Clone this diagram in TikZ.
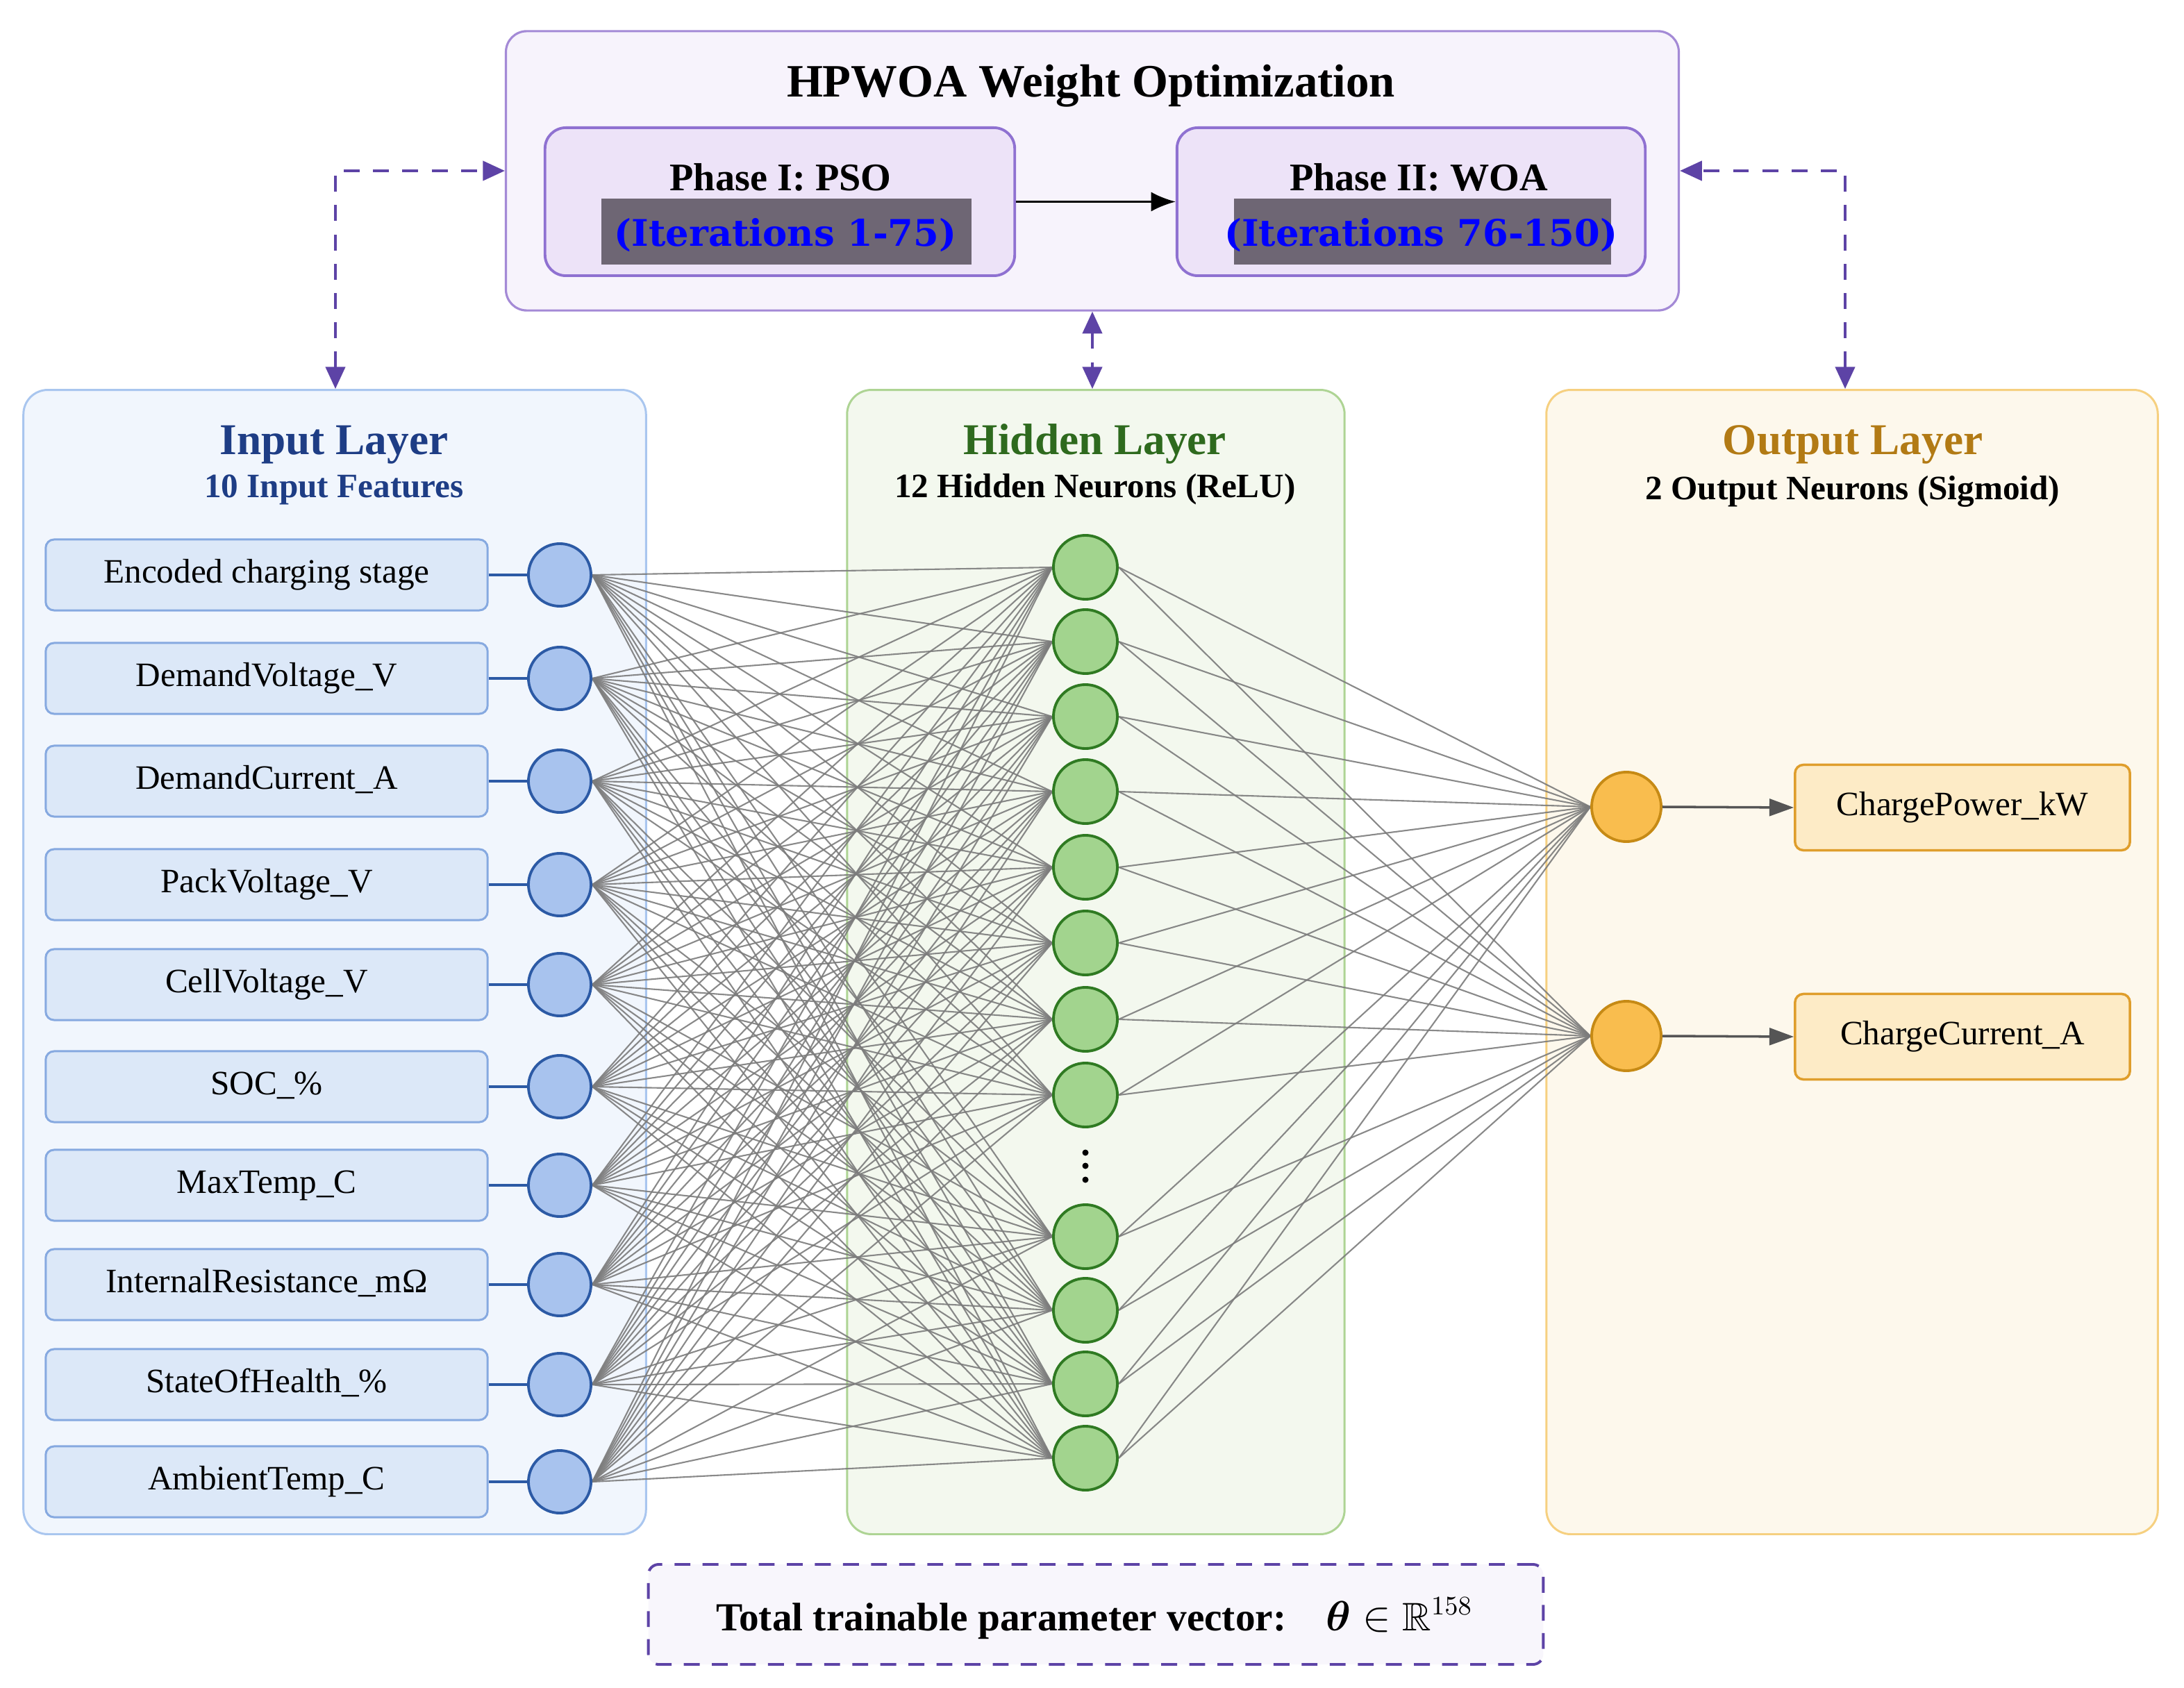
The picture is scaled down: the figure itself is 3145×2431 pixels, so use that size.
\documentclass[tikz,border=0pt]{standalone}
\usepackage{amsmath,amssymb,bm}
\usepackage{fontspec}
\setmainfont{Liberation Serif}
\newfontfamily\dvsfont{DejaVu Serif}
\usetikzlibrary{arrows.meta}
\pgfdeclarelayer{back}
\pgfdeclarelayer{mid}
\pgfsetlayers{back,mid,main}
\definecolor{topfill}{HTML}{F7F3FC}
\definecolor{topdraw}{HTML}{A48AD6}
\definecolor{phfill}{HTML}{EDE3F8}
\definecolor{phdraw}{HTML}{8F71D1}
\definecolor{dashc}{HTML}{5D43A6}
\definecolor{itbg}{HTML}{6E6674}
\definecolor{itblue}{HTML}{0000FF}
\definecolor{inbg}{HTML}{F1F6FD}
\definecolor{inbd}{HTML}{A9C6EF}
\definecolor{featfill}{HTML}{DCE8F8}
\definecolor{featbd}{HTML}{86A9E0}
\definecolor{incf}{HTML}{A8C3EE}
\definecolor{incd}{HTML}{2C5AA5}
\definecolor{hidbg}{HTML}{F3F8EE}
\definecolor{hidbd}{HTML}{AED494}
\definecolor{hcf}{HTML}{A2D48E}
\definecolor{hcd}{HTML}{2F7A22}
\definecolor{outbg}{HTML}{FDF8EC}
\definecolor{outbd}{HTML}{F6D080}
\definecolor{ocf}{HTML}{F9BD4E}
\definecolor{ocd}{HTML}{C68A15}
\definecolor{obf}{HTML}{FDEBC6}
\definecolor{obd}{HTML}{DF9E2C}
\definecolor{intitle}{HTML}{1E3D85}
\definecolor{hidtitle}{HTML}{2E6A1E}
\definecolor{outtitle}{HTML}{B27A14}
\definecolor{conncol}{HTML}{7C7C7C}
\definecolor{totfill}{HTML}{F8F6FC}
\definecolor{outarr}{HTML}{555555}
\newcommand\fsBig{\fontsize{19pt}{22pt}\selectfont\bfseries}
\newcommand\fsLay{\fontsize{18pt}{21pt}\selectfont\bfseries}
\newcommand\fsSub{\fontsize{14pt}{16pt}\selectfont\bfseries}
\newcommand\fsPh{\fontsize{16pt}{19pt}\selectfont\bfseries}
\newcommand\fsIt{\dvsfont\fontsize{15pt}{18pt}\selectfont\bfseries}
\newcommand\fsLab{\fontsize{14pt}{16pt}\selectfont}
\newcommand\fsTot{\fontsize{16.3pt}{19pt}\selectfont\bfseries}
\tikzset{
  lbox/.style={draw, rounded corners=0.35cm, line width=0.85pt, inner sep=0pt},
  featbox/.style={draw=featbd, fill=featfill, rounded corners=0.12cm, line width=0.85pt,
    minimum width=6.36cm, minimum height=1.02cm, text height=0.66em, text depth=0pt,
    font=\fsLab, inner sep=0pt},
  incirc/.style={circle, draw=incd, fill=incf, line width=1.1pt, minimum size=0.9cm, inner sep=0pt},
  hcirc/.style={circle, draw=hcd, fill=hcf, line width=1.1pt, minimum size=0.92cm, inner sep=0pt},
  ocirc/.style={circle, draw=ocd, fill=ocf, line width=1.1pt, minimum size=1.0cm, inner sep=0pt},
  obox/.style={draw=obd, fill=obf, rounded corners=0.12cm, line width=1pt,
    minimum width=4.82cm, minimum height=1.23cm, text height=0.66em, text depth=0pt,
    font=\fsLab, inner sep=0pt},
  conn/.style={draw=conncol, line width=0.6pt, draw opacity=0.9},
  dasharr/.style={draw=dashc, line width=1.1pt, dash pattern=on 6.5pt off 5.5pt,
    {Triangle[length=9pt,width=8pt]}-{Triangle[length=9pt,width=8pt]}},
  phbox/.style={draw=phdraw, fill=phfill, rounded corners=0.3cm, line width=1.1pt,
    minimum height=2.13cm, inner sep=0pt},
  itbox/.style={fill=itbg, minimum height=0.95cm, inner sep=0pt},
  ittext/.style={anchor=base, inner sep=0pt, font=\fsIt, text=itblue},
  ttl/.style={anchor=base, inner sep=0pt}
}
\begin{document}
\begin{tikzpicture}[x=0.01cm,y=-0.01cm]
\useasboundingbox (0,0) rectangle (3145,2431);

% --- top optimization box
\node[draw=topdraw, fill=topfill, rounded corners=0.3cm, line width=0.9pt,
  minimum width=16.88cm, minimum height=4.02cm, inner sep=0pt] (top) at (1573,246) {};
\node[ttl, font=\fsBig] (toptitle) at (1571,140) {HPWOA Weight Optimization};
\node[phbox, minimum width=6.76cm] (ph1) at (1123,290.5) {};
\node[phbox, minimum width=6.74cm] (ph2) at (2032,290.5) {};
\node[ttl, font=\fsPh] (ph1t) at (1124,275) {Phase I: PSO};
\node[ttl, font=\fsPh] (ph2t) at (2043,275) {Phase II: WOA};
\node[itbox, minimum width=5.33cm] (it1) at (1132.5,333.5) {};
\node[itbox, minimum width=5.43cm] (it2) at (2048.5,333.5) {};
\node[ittext] (it1t) at (1131,355) {(Iterations 1-75)};
\node[ittext] (it2t) at (2046,355) {(Iterations 76-150)};
\draw[black, line width=0.9pt, -{Latex[length=10pt,width=8pt]}] (ph1.east) -- (ph2.west);

% --- layer boxes
\begin{pgfonlayer}{back}
\node[lbox, draw=inbd, fill=inbg, minimum width=8.96cm, minimum height=16.47cm] (inL) at (482,1385.5) {};
\node[lbox, draw=hidbd, fill=hidbg, minimum width=7.16cm, minimum height=16.47cm] (hidL) at (1578,1385.5) {};
\node[lbox, draw=outbd, fill=outbg, minimum width=8.80cm, minimum height=16.47cm] (outL) at (2667,1385.5) {};
\end{pgfonlayer}

\node[ttl, font=\fsLay, text=intitle] (inT) at (481,655) {Input Layer};
\node[ttl, font=\fsSub, text=intitle] (inS) at (481,717) {10 Input Features};
\node[ttl, font=\fsLay, text=hidtitle] (hidT) at (1577,655) {Hidden Layer};
\node[ttl, font=\fsSub] (hidS) at (1577,717) {12 Hidden Neurons (ReLU)};
\node[ttl, font=\fsLay, text=outtitle] (outT) at (2668,655) {Output Layer};
\node[ttl, font=\fsSub] (outS) at (2668,720) {2 Output Neurons (Sigmoid)};

% --- dashed feedback arrows
\coordinate (cl) at (483,246);
\coordinate (cr) at (2657,246);
\draw[dasharr] (cl |- inL.north) -- (cl) -- (top.west);
\draw[dasharr] (cr |- outL.north) -- (cr) -- (top.east);
\draw[dasharr] (top.south) -- (top.south |- hidL.north);

% --- input features
\foreach \y/\t [count=\k] in {828/Encoded charging stage, 977/DemandVoltage\_V,
  1125/DemandCurrent\_A, 1274/PackVoltage\_V, 1418/CellVoltage\_V, 1565/SOC\_\%,
  1707/MaxTemp\_C, 1850/InternalResistance\_mΩ, 1994/StateOfHealth\_\%, 2134/AmbientTemp\_C}{
  \node[featbox] (f\k) at (384,\y) {\t};
  \node[incirc] (i\k) at (806,\y) {};
  \draw[incd, line width=1.1pt] (f\k.east) -- (i\k.west);
}

% --- hidden neurons
\foreach \y [count=\k] in {817,924,1032,1140,1249,1358,1468,1577,1781,1887,1993,2100}{
  \node[hcirc] (h\k) at (1563,\y) {};
}
\foreach \y [count=\k] in {1660,1679,1699}{
  \node[circle, fill=black, minimum size=0.09cm, inner sep=0pt] (dot\k) at (1563,\y) {};
}

% --- output neurons
\node[ocirc] (o1) at (2342,1162) {};
\node[ocirc] (o2) at (2342,1492) {};
\node[obox] (ob1) at (2826,1163) {ChargePower\_kW};
\node[obox] (ob2) at (2826,1493) {ChargeCurrent\_A};
\draw[outarr, line width=1pt, -{Triangle[length=10pt,width=7pt]}] (o1.east) -- (ob1.west);
\draw[outarr, line width=1pt, -{Triangle[length=10pt,width=7pt]}] (o2.east) -- (ob2.west);

% --- connections
\begin{pgfonlayer}{mid}
\foreach \i in {1,...,10}{
  \foreach \j in {1,...,12}{
    \draw[conn] (i\i.east) -- (h\j.west);
  }
}
\foreach \j in {1,...,12}{
  \draw[conn] (h\j.east) -- (o1.west);
  \draw[conn] (h\j.east) -- (o2.west);
}
\end{pgfonlayer}

% --- total parameter box
\node[draw=dashc, fill=totfill, line width=1.1pt, dash pattern=on 6.5pt off 5pt,
  rounded corners=0.15cm, minimum width=12.88cm, minimum height=1.44cm, inner sep=0pt] (tot) at (1578,2325) {};
\node[ttl, font=\fsTot] (tott) at (1576,2348) {Total trainable parameter vector:\quad $\bm{\theta}\in\mathbb{R}^{158}$};
\end{tikzpicture}
\end{document}
